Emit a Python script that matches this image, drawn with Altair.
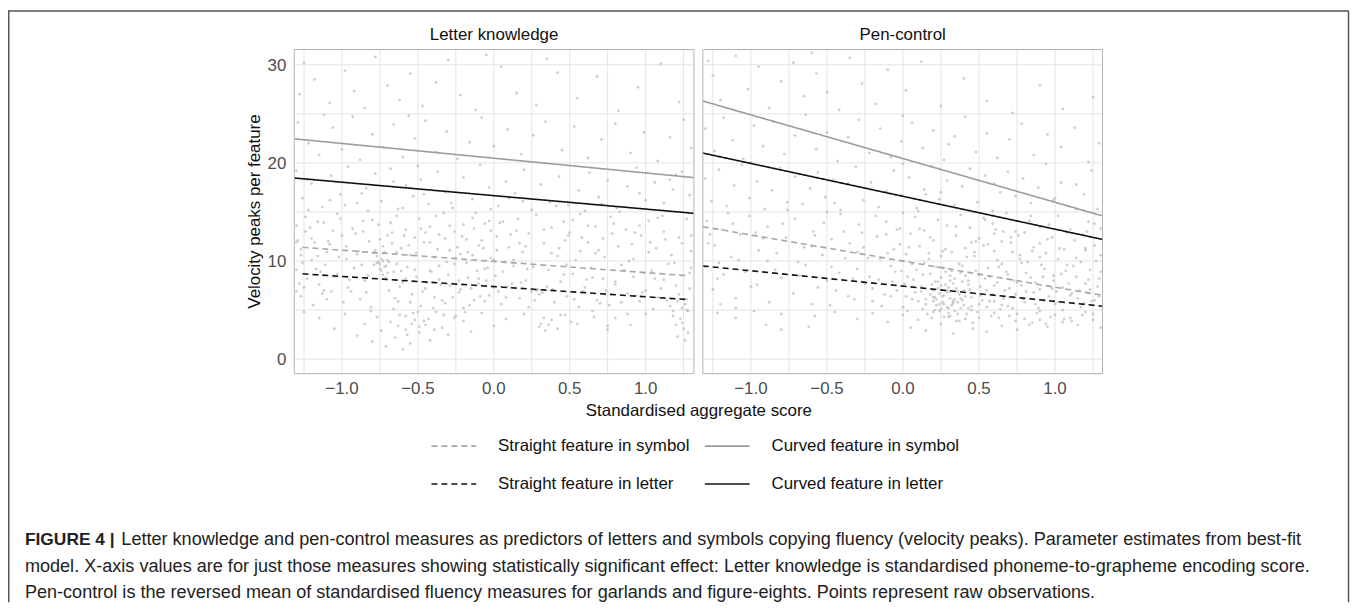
import altair as alt
import pandas as pd

FONT = "Liberation Sans"

# ---------------- data ----------------
SERIES = ["Straight feature in symbol", "Curved feature in symbol",
          "Straight feature in letter", "Curved feature in letter"]
PANEL_TITLES = ["Letter knowledge", "Pen-control"]
X_TITLE = "Standardised aggregate score"
Y_TITLE = "Velocity peaks per feature"
X_TICKS = [-1.0, -0.5, 0.0, 0.5, 1.0]
Y_TICKS = [0, 10, 20, 30]
X_GRID = [-1.25, -1.0, -0.75, -0.5, -0.25, 0.0, 0.25, 0.5, 0.75, 1.0, 1.25]
Y_GRID = [0, 5, 10, 15, 20, 25, 30]

# fitted lines (start / end of each series, in SERIES order)
LK_LINE_X0 = [-1.26, -1.314, -1.26, -1.314]
LK_LINE_X1 = [1.28, 1.318, 1.28, 1.318]
LK_LINE_Y0 = [11.4, 22.45, 8.7, 18.46]
LK_LINE_Y1 = [8.5, 18.5, 6.07, 14.86]
PC_LINE_X0 = [-1.316, -1.316, -1.316, -1.316]
PC_LINE_X1 = [1.312, 1.312, 1.312, 1.312]
PC_LINE_Y0 = [13.5, 26.3, 9.5, 21.0]
PC_LINE_Y1 = [6.5, 14.6, 5.4, 12.2]

# raw observations (a readable sample)
LK_POINTS = [
    (-1.25,30.2),(-1.18,28.5),(-1.08,26.1),(-0.98,29.4),(-0.92,27.3),(-0.85,25.6),(-0.78,30.8),(-0.7,27.9),
    (-0.62,26.4),(-0.55,29.1),(-0.47,25.8),(-0.38,28.2),(-0.3,30.5),(-0.22,26.9),(-0.12,25.4),(0.05,29.8),
    (0.15,27.1),(0.28,25.9),(0.42,29.2),(0.55,26.6),(0.68,28.8),(0.82,25.3),(0.95,27.7),(1.1,30.1),
    (1.22,26.2),(-1.28,27.0),(-0.05,31.0),(0.35,30.6),
    (-1.29,24.1),(-1.22,22.0),(-1.15,20.8),(-1.06,23.6),(-1.0,21.4),(-0.93,24.7),(-0.88,20.3),(-0.8,22.9),
    (-0.73,21.6),(-0.66,23.9),(-0.6,20.6),(-0.52,22.5),(-0.45,24.3),(-0.38,21.1),(-0.31,23.2),(-0.24,20.4),
    (-0.16,22.1),(-0.08,24.6),(0.0,21.7),(0.09,23.4),(0.18,20.9),(0.26,22.8),(0.34,24.2),(0.45,21.3),
    (0.53,23.7),(0.62,20.5),(0.71,22.4),(0.8,24.0),(0.9,21.0),(0.99,23.1),(1.08,20.2),(1.16,22.6),
    (1.25,24.4),(1.3,21.5),(-1.12,24.9),(-0.56,24.8),
    (-1.3,19.2),(-1.26,16.4),(-1.2,17.9),(-1.13,15.5),(-1.07,18.7),(-1.01,16.8),(-0.96,19.6),(-0.9,15.9),
    (-0.84,17.4),(-0.78,18.9),(-0.74,16.1),(-0.68,19.4),(-0.63,15.3),(-0.58,17.7),(-0.53,16.6),(-0.48,18.3),
    (-0.43,15.8),(-0.37,19.1),(-0.32,17.0),(-0.27,15.4),(-0.2,18.5),(-0.14,16.3),(-0.09,19.8),(-0.03,17.5),
    (0.03,15.6),(0.08,18.1),(0.14,16.9),(0.2,19.3),(0.25,15.2),(0.31,17.8),(0.37,16.0),(0.43,18.6),
    (0.49,15.7),(0.56,17.2),(0.63,19.0),(0.69,16.5),(0.75,18.2),(0.81,15.4),(0.88,17.6),(0.94,19.5),
    (1.0,16.2),(1.06,18.0),(1.12,15.9),(1.18,17.3),(1.24,19.1),(1.29,16.7),(-1.23,18.3),(-0.87,16.9),
    (-0.5,19.7),(0.1,16.4),(0.6,15.1),(1.2,18.8),
    (-1.3,13.6),(-1.27,11.2),(-1.24,14.5),(-1.2,12.3),(-1.16,10.5),(-1.12,13.9),(-1.08,11.7),(-1.03,14.8),
    (-1.0,12.6),(-0.97,10.2),(-0.93,13.3),(-0.89,11.0),(-0.86,14.1),(-0.82,12.0),(-0.79,10.8),(-0.76,13.7),
    (-0.73,11.5),(-0.7,10.1),(-0.67,12.9),(-0.64,14.6),(-0.61,11.3),(-0.58,13.2),(-0.55,10.6),(-0.52,12.4),
    (-0.49,14.3),(-0.46,11.9),(-0.42,13.5),(-0.39,10.4),(-0.36,12.7),(-0.33,14.9),(-0.29,11.1),(-0.26,13.0),
    (-0.22,10.7),(-0.18,12.2),(-0.14,14.4),(-0.1,11.6),(-0.06,13.8),(-0.02,10.3),(0.02,12.5),(0.06,14.0),
    (0.1,11.4),(0.15,13.1),(0.19,10.9),(0.23,12.8),(0.28,14.7),(0.33,11.8),(0.38,13.4),(0.42,10.5),
    (0.47,12.1),(0.52,14.2),(0.57,11.0),(0.62,13.6),(0.67,10.8),(0.72,12.3),(0.77,14.5),(0.82,11.5),
    (0.87,13.2),(0.92,10.2),(0.97,12.6),(1.02,14.1),(1.07,11.3),(1.12,13.0),(1.17,10.6),(1.22,12.4),
    (1.27,14.3),(1.3,11.0),(-0.75,12.2),(-0.72,10.9),(-0.7,12.6),(-0.02,13.1),(0.5,12.9),(-1.1,10.9),
    (-1.3,9.1),(-1.27,6.4),(-1.23,8.2),(-1.19,5.5),(-1.15,7.6),(-1.11,9.6),(-1.07,6.9),(-1.03,8.7),
    (-0.99,5.8),(-0.96,7.3),(-0.92,9.3),(-0.88,6.1),(-0.85,8.0),(-0.81,5.3),(-0.77,9.8),(-0.75,9.2),
    (-0.73,8.6),(-0.71,9.5),(-0.69,7.0),(-0.66,8.9),(-0.63,5.9),(-0.6,7.8),(-0.57,9.4),(-0.54,6.6),
    (-0.51,8.4),(-0.48,5.4),(-0.45,7.2),(-0.42,9.0),(-0.39,6.3),(-0.36,8.1),(-0.32,5.7),(-0.29,7.5),
    (-0.26,9.7),(-0.23,6.8),(-0.2,5.2),(-0.17,8.3),(-0.13,6.0),(-0.1,7.7),(-0.06,9.2),(-0.03,6.5),
    (0.01,8.5),(0.05,5.6),(0.09,7.4),(0.13,9.5),(0.17,6.2),(0.21,8.0),(0.25,6.9),(0.29,7.1),
    (0.32,6.8),(0.36,9.1),(0.4,5.8),(0.44,7.9),(0.48,6.4),(0.52,8.7),(0.56,5.3),(0.6,7.3),
    (0.64,9.3),(0.68,6.0),(0.72,8.2),(0.76,5.5),(0.8,7.6),(0.84,9.6),(0.88,6.7),(0.92,8.4),
    (0.96,5.9),(1.0,7.0),(1.04,9.0),(1.08,6.3),(1.12,8.1),(1.16,5.4),(1.2,7.5),(1.24,5.2),
    (1.27,6.1),(1.29,8.8),(-0.64,9.7),(-0.58,8.2),
    (-1.15,4.2),(-1.05,3.1),(-0.98,4.6),(-0.9,2.4),(-0.85,3.6),(-0.8,1.8),(-0.77,4.3),(-0.74,2.9),
    (-0.71,1.3),(-0.68,3.8),(-0.65,2.2),(-0.62,4.5),(-0.58,3.0),(-0.55,1.6),(-0.52,4.0),(-0.49,2.7),
    (-0.45,3.5),(-0.42,1.9),(-0.38,4.8),(-0.34,3.2),(-0.3,2.5),(-0.25,4.4),(-0.2,3.9),(-0.15,2.8),
    (-0.08,4.7),(0.0,3.4),(0.08,4.1),(0.2,4.6),(0.3,3.3),(0.34,2.9),(0.38,4.0),(0.42,3.1),
    (0.47,4.5),(0.55,3.6),(0.65,4.9),(0.75,3.0),(0.8,4.2),(0.9,3.5),(1.0,4.6),(1.18,4.4),
    (1.21,2.3),(1.24,3.7),(1.26,1.9),(1.28,4.9),(-1.25,4.8),(-0.6,1.0),
    (-1.29,12.1),(-1.26,9.8),(-1.22,15.2),(-1.18,11.9),(-1.14,8.9),(-1.1,6.1),(-1.06,13.1),(-1.02,10.4),
    (-0.98,15.7),(-0.95,8.1),(-0.91,12.8),(-0.87,9.6),(-0.84,6.8),(-0.8,14.2),(-0.78,11.1),(-0.76,9.9),
    (-0.74,10.2),(-0.72,9.4),(-0.7,8.8),(-0.68,13.9),(-0.66,5.1),(-0.64,10.9),(-0.62,7.4),(-0.6,15.4),
    (-0.58,4.4),(-0.56,11.6),(-0.54,3.6),(-0.52,9.1),(-0.5,4.8),(-0.48,13.3),(-0.46,3.9),(-0.44,7.8),
    (-0.42,11.9),(-0.4,5.2),(-0.38,14.6),(-0.36,9.5),(-0.34,6.0),(-0.32,12.3),(-0.3,8.6),(-0.28,15.9),
    (-0.26,4.2),(-0.24,11.4),(-0.22,7.1),(-0.2,13.7),(-0.18,9.8),(-0.16,5.5),(-0.14,10.6),(-0.12,14.9),
    (-0.1,8.2),(-0.08,12.1),(-0.06,5.9),(-0.04,9.3),(-0.02,15.3),(0.0,7.3),(0.02,11.1),(0.04,13.9),
    (0.06,8.9),(0.08,6.3),(0.11,12.7),(0.13,10.1),(0.16,14.3),(0.18,7.8),(0.21,11.5),(0.23,5.3),
    (0.26,9.4),(0.28,7.0),(0.3,6.6),(0.33,13.2),(0.35,7.4),(0.38,10.8),(0.41,15.6),(0.44,4.5),
    (0.46,8.6),(0.49,12.6),(0.51,3.8),(0.54,10.1),(0.57,14.8),(0.59,6.9),(0.62,11.9),(0.65,8.3),
    (0.67,13.5),(0.7,5.7),(0.73,10.4),(0.75,3.4),(0.78,12.8),(0.8,7.9),(0.83,15.0),(0.86,9.1),
    (0.88,4.6),(0.91,11.7),(0.94,6.5),(0.96,13.6),(0.99,8.8),(1.02,10.9),(1.05,5.1),(1.08,14.4),
    (1.1,7.2),(1.13,12.2),(1.15,9.7),(1.18,4.9),(1.2,3.5),(1.22,6.6),(1.24,11.8),(1.26,5.6),
    (1.28,2.7),(1.3,9.3),(-1.28,7.7),(-1.24,13.0),(-1.2,10.1),(-1.16,14.0),(-1.12,7.0),
    (-1.27,10.6),(-1.25,7.3),(-1.21,13.4),(-1.17,9.2),(-1.13,6.7),(-1.09,12.0),(-1.05,8.4),(-1.01,14.3),
    (-0.97,11.5),(-0.94,6.9),(-0.9,10.7),(-0.86,13.0),(-0.83,8.5),(-0.81,4.9),(-0.79,9.6),(-0.77,10.5),
    (-0.75,9.7),(-0.74,9.0),(-0.73,10.0),(-0.71,8.3),(-0.69,9.9),(-0.67,11.8),(-0.65,6.2),(-0.63,3.4),
    (-0.61,9.0),(-0.59,12.6),(-0.57,2.5),(-0.55,5.8),(-0.53,4.7),(-0.51,10.8),(-0.49,3.3),(-0.47,6.9),
    (-0.45,12.9),(-0.43,4.1),(-0.41,8.9),(-0.39,3.0),(-0.37,11.2),(-0.35,7.6),(-0.33,4.5),(-0.31,9.9),
    (-0.29,13.6),(-0.27,6.3),(-0.25,10.3),(-0.23,8.0),(-0.21,12.5),(-0.19,4.8),(-0.17,10.9),(-0.15,7.2),
    (-0.13,13.3),(-0.11,9.0),(-0.09,6.4),(-0.07,11.3),(-0.05,8.0),(-0.03,14.1),(0.0,10.1),(0.03,6.9),
    (0.07,9.9),(0.12,7.7),(0.17,11.8),(0.22,9.2),(0.27,6.0),(0.31,3.6),(0.33,4.2),(0.36,3.5),
    (0.39,7.1),(0.43,11.3),(0.48,9.6),(0.53,6.1),(0.58,12.4),(0.61,8.1),(0.66,4.3),(0.69,11.1),
    (0.74,7.0),(0.79,13.8),(0.84,5.8),(0.89,10.0),(0.93,12.9),(0.98,6.8),(1.03,11.9),(1.06,8.2),
    (1.11,14.6),(1.14,6.0),(1.19,9.8),(1.21,5.9),(1.23,4.1),(1.25,3.1),(1.27,5.0),(1.29,7.2),
    (1.3,12.6),(-1.3,11.9),(-1.3,6.9),(0.71,15.8),(0.46,14.0),(-0.83,15.1),(-0.46,16.8),(0.19,16.1),
    (-1.08,16.2),(0.96,16.9),(1.16,18.3),(-0.66,18.1),
]

PC_POINTS = [
    (-1.28,30.4),(-1.25,28.9),(-1.2,26.4),(-1.1,30.9),(-1.02,27.5),(-0.95,29.8),(-0.88,25.6),(-0.8,28.3),
    (-0.72,30.2),(-0.65,26.8),(-0.57,29.1),(-0.5,27.2),(-0.42,25.4),(-0.35,30.7),(-0.27,28.1),(-0.18,26.0),
    (-0.1,29.5),(0.02,27.4),(0.12,30.3),(0.25,25.8),(0.4,28.6),(0.55,26.3),(0.72,25.1),(0.9,27.9),
    (1.05,25.5),(1.25,26.7),(-0.6,31.2),
    (-1.3,23.5),(-1.24,21.2),(-1.18,24.6),(-1.12,22.3),(-1.05,20.4),(-0.98,23.8),(-0.92,21.7),(-0.85,24.2),
    (-0.78,20.9),(-0.71,22.8),(-0.64,24.9),(-0.57,21.4),(-0.5,23.1),(-0.43,20.2),(-0.36,22.6),(-0.29,24.4),
    (-0.22,21.0),(-0.15,23.5),(-0.08,20.6),(-0.01,22.2),(0.06,24.1),(0.13,21.5),(0.2,23.3),(0.27,20.3),
    (0.34,22.7),(0.41,24.7),(0.48,21.1),(0.55,23.0),(0.62,20.5),(0.7,22.4),(0.78,24.0),(0.86,20.8),
    (0.95,22.9),(1.04,21.6),(1.13,23.6),(1.22,20.1),(1.29,22.0),(-1.0,20.0),(0.3,21.9),(0.0,24.8),
    (-1.3,18.4),(-1.26,16.1),(-1.21,19.3),(-1.16,15.6),(-1.11,17.7),(-1.06,19.8),(-1.01,16.4),(-0.96,18.1),
    (-0.91,15.3),(-0.86,17.2),(-0.81,19.5),(-0.76,16.0),(-0.71,18.6),(-0.66,15.8),(-0.61,17.4),(-0.56,19.0),
    (-0.51,16.5),(-0.46,18.3),(-0.41,15.2),(-0.36,17.9),(-0.31,19.6),(-0.26,16.2),(-0.21,18.0),(-0.16,15.5),
    (-0.11,17.1),(-0.06,19.2),(-0.01,16.7),(0.04,18.5),(0.09,15.4),(0.14,17.3),(0.19,19.7),(0.24,16.3),
    (0.29,18.2),(0.34,15.7),(0.39,17.6),(0.44,19.4),(0.49,16.0),(0.54,18.7),(0.59,15.1),(0.64,17.0),
    (0.69,19.1),(0.74,16.6),(0.79,18.4),(0.84,15.9),(0.89,17.5),(0.94,19.9),(0.99,16.2),(1.04,18.0),
    (1.09,15.6),(1.14,17.8),(1.19,16.8),(1.24,19.2),(1.28,15.3),(0.0,19.9),(0.25,17.0),(-0.5,15.0),
    (-1.29,14.1),(-1.24,11.6),(-1.19,13.2),(-1.13,10.4),(-1.07,12.7),(-1.01,14.6),(-0.95,11.1),(-0.89,13.5),
    (-0.83,10.8),(-0.77,12.4),(-0.71,14.3),(-0.65,11.4),(-0.59,13.0),(-0.53,10.6),(-0.47,12.2),(-0.41,14.8),
    (-0.35,11.8),(-0.29,13.7),(-0.23,10.3),(-0.17,12.5),(-0.11,14.0),(-0.06,11.2),(-0.02,13.3),(0.02,10.7),
    (0.05,12.8),(0.08,14.5),(0.11,11.5),(0.14,13.1),(0.17,10.2),(0.2,12.1),(0.23,14.2),(0.26,11.0),
    (0.29,13.6),(0.32,10.9),(0.35,12.6),(0.38,14.7),(0.41,11.3),(0.44,13.4),(0.47,10.5),(0.5,12.3),
    (0.53,14.4),(0.56,11.7),(0.59,13.8),(0.62,10.1),(0.65,12.0),(0.68,14.9),(0.71,11.9),(0.74,13.0),
    (0.77,10.6),(0.8,12.9),(0.83,14.1),(0.86,11.4),(0.9,13.5),(0.94,10.8),(0.98,12.4),(1.02,14.6),
    (1.06,11.2),(1.1,13.2),(1.14,10.3),(1.18,12.7),(1.22,14.0),(1.26,11.6),(1.3,13.3),(0.0,14.9),
    (0.25,10.5),(0.45,11.9),(0.6,12.8),(0.9,10.4),(1.2,11.1),(-0.3,10.9),
    (-1.3,9.4),(-1.25,7.1),(-1.18,8.6),(-1.1,6.2),(-1.03,9.0),(-0.96,7.6),(-0.88,5.8),(-0.8,8.3),
    (-0.72,6.7),(-0.64,9.6),(-0.56,7.3),(-0.48,5.5),(-0.42,8.8),(-0.36,6.4),(-0.3,9.2),(-0.25,7.7),
    (-0.2,5.9),(-0.16,8.1),(-0.12,6.6),(-0.08,9.5),(-0.04,7.0),(0.0,5.3),(0.03,8.4),(0.06,6.1),
    (0.09,9.1),(0.12,7.4),(0.15,5.6),(0.18,8.7),(0.21,6.3),(0.23,7.9),(0.25,5.1),(0.27,9.3),
    (0.29,6.8),(0.31,8.0),(0.33,5.7),(0.35,7.2),(0.37,9.7),(0.39,6.0),(0.41,8.5),(0.43,7.6),
    (0.45,5.4),(0.48,9.0),(0.51,6.5),(0.54,8.2),(0.57,5.9),(0.6,7.5),(0.63,9.4),(0.66,6.2),
    (0.69,8.6),(0.72,5.2),(0.75,7.8),(0.78,9.8),(0.81,6.9),(0.84,8.3),(0.87,5.6),(0.9,7.1),
    (0.93,9.2),(0.96,6.4),(0.99,8.0),(1.02,5.8),(1.05,7.3),(1.08,9.6),(1.11,6.7),(1.14,8.4),
    (1.17,5.3),(1.2,7.7),(1.23,9.1),(1.26,6.0),(1.29,8.2),(0.2,7.0),(0.26,6.4),(0.3,5.2),
    (0.34,6.1),(0.22,5.5),(0.28,7.6),(0.36,5.8),(0.18,6.6),(0.4,7.0),(0.1,5.9),(0.5,5.6),
    (0.55,7.0),(0.65,5.5),(0.7,7.2),(-0.5,8.0),(-1.2,5.6),
    (-1.22,4.7),(-1.1,4.2),(-0.98,4.9),(-0.9,3.5),(-0.8,4.6),(-0.62,3.3),(-0.58,4.4),(-0.45,4.8),
    (-0.3,4.1),(-0.2,4.7),(-0.1,3.8),(0.0,4.5),(0.05,3.2),(0.1,4.0),(0.15,2.9),(0.2,4.8),
    (0.25,3.6),(0.3,4.3),(0.33,2.6),(0.37,3.9),(0.42,4.6),(0.46,3.1),(0.5,4.2),(0.55,2.8),
    (0.6,4.7),(0.65,3.4),(0.7,4.4),(0.75,3.0),(0.8,4.1),(0.85,3.7),(0.9,4.9),(0.95,3.3),
    (1.0,4.5),(1.05,3.8),(1.1,4.2),(1.15,3.5),(1.2,4.8),(1.25,4.0),(1.3,3.2),(-0.8,3.0),
    (-1.28,11.8),(-1.22,8.2),(-1.15,14.9),(-1.08,10.1),(-1.0,7.4),(-0.92,12.3),(-0.84,9.1),(-0.76,15.2),
    (-0.68,8.5),(-0.6,11.5),(-0.52,13.9),(-0.44,7.0),(-0.38,10.3),(-0.32,6.1),(-0.27,12.9),(-0.22,8.4),
    (-0.18,14.6),(-0.14,5.4),(-0.1,10.8),(-0.07,7.9),(-0.04,13.2),(-0.01,9.0),(0.02,6.4),(0.04,11.4),
    (0.07,8.1),(0.1,15.1),(0.12,6.9),(0.14,9.8),(0.16,4.6),(0.18,12.4),(0.19,7.6),(0.21,5.0),
    (0.22,9.4),(0.24,6.7),(0.25,8.3),(0.27,4.3),(0.28,11.2),(0.3,7.3),(0.31,6.2),(0.32,9.0),
    (0.34,4.9),(0.35,13.5),(0.37,6.6),(0.38,8.8),(0.4,5.5),(0.42,10.4),(0.44,7.1),(0.46,3.7),
    (0.48,12.0),(0.5,8.6),(0.52,6.0),(0.54,14.2),(0.56,9.3),(0.58,4.4),(0.6,11.0),(0.62,7.8),
    (0.64,5.1),(0.66,13.0),(0.68,8.9),(0.7,6.3),(0.72,10.9),(0.74,3.9),(0.76,12.6),(0.78,7.5),
    (0.8,5.8),(0.82,9.9),(0.84,14.6),(0.86,6.8),(0.88,4.7),(0.9,11.8),(0.92,8.4),(0.94,3.6),
    (0.96,13.7),(0.98,7.2),(1.0,5.6),(1.02,10.2),(1.04,8.7),(1.06,4.1),(1.08,12.9),(1.1,6.5),
    (1.12,9.5),(1.14,15.3),(1.16,7.0),(1.18,4.5),(1.2,11.3),(1.22,8.1),(1.24,5.9),(1.26,13.8),
    (1.28,7.4),(1.3,10.6),(0.26,5.8),(0.33,7.7),(0.29,5.3),(0.36,4.6),(0.23,7.2),(0.41,6.4),
    (0.31,8.5),(0.2,5.9),(0.45,5.0),(0.39,7.9),(-0.6,5.6),(-1.1,5.2),(-0.45,15.9),(0.15,16.8),
    (0.6,17.9),(1.0,16.4),
    (-1.27,12.7),(-1.21,9.8),(-1.12,13.8),(-1.04,8.9),(-0.97,12.9),(-0.89,10.0),(-0.79,13.8),(-0.69,9.9),
    (-0.58,12.6),(-0.47,9.4),(-0.39,13.0),(-0.33,8.2),(-0.26,11.4),(-0.2,7.2),(-0.15,10.2),(-0.11,12.7),
    (-0.08,6.4),(-0.05,8.9),(-0.02,11.7),(0.01,7.7),(0.03,4.9),(0.06,9.7),(0.08,6.8),(0.11,13.3),
    (0.13,8.6),(0.15,6.1),(0.17,10.8),(0.19,4.2),(0.21,7.9),(0.22,6.1),(0.24,4.9),(0.25,7.5),
    (0.27,5.6),(0.28,8.9),(0.3,4.7),(0.31,6.9),(0.32,5.5),(0.34,8.2),(0.35,3.9),(0.36,6.9),
    (0.38,5.2),(0.39,9.5),(0.41,4.1),(0.43,8.0),(0.45,6.3),(0.47,10.9),(0.49,4.8),(0.51,7.4),
    (0.53,11.6),(0.55,5.3),(0.57,8.4),(0.59,6.6),(0.61,13.2),(0.63,4.2),(0.65,9.7),(0.67,7.0),
    (0.69,5.4),(0.71,12.4),(0.73,8.0),(0.75,4.6),(0.77,10.2),(0.79,6.1),(0.81,8.8),(0.83,3.5),
    (0.85,11.0),(0.87,7.8),(0.89,5.2),(0.91,9.6),(0.93,6.0),(0.95,12.2),(0.97,4.3),(0.99,8.5),
    (1.01,6.9),(1.03,11.3),(1.05,5.0),(1.07,9.0),(1.09,7.7),(1.11,3.9),(1.13,12.1),(1.15,6.2),
    (1.17,9.9),(1.19,5.7),(1.21,13.0),(1.23,7.1),(1.25,4.6),(1.27,10.0),(1.29,6.4),(1.3,8.9),
    (0.27,6.5),(0.33,5.9),(0.24,5.6),(0.38,6.2),(0.29,7.0),(0.31,4.4),(0.2,6.3),(0.43,5.2),
    (0.13,5.1),(0.6,5.9),(0.74,6.6),(0.9,4.0),
]

CAPTION_BOLD = "FIGURE 4 |"
CAPTION_LINES = [
    "Letter knowledge and pen-control measures as predictors of letters and symbols copying fluency (velocity peaks). Parameter estimates from best-fit",
    "model. X-axis values are for just those measures showing statistically significant effect: Letter knowledge is standardised phoneme-to-grapheme encoding score.",
    "Pen-control is the reversed mean of standardised fluency measures for garlands and figure-eights. Points represent raw observations.",
]

# ---------------- layout / style ----------------
W, H = 1350, 596
PY0, PY1 = 40, 366                 # panel top / bottom (px)
LEFT_R, RIGHT_R = (288, 690), (699, 1101)
LK_XDOM, PC_XDOM = [-1.314, 1.318], [-1.316, 1.312]
YDOM = [-1.47, 31.55]
GRID_C, BORDER_C, LABEL_C, TEXT_C = "#e4e4e4", "#b3b3b3", "#4d4d4d", "#111111"
STYLE = {  # colour, dash
    "Straight feature in symbol": ("#a6a6a6", [6, 4]),
    "Curved feature in symbol": ("#9c9c9c", [1, 0]),
    "Straight feature in letter": ("#111111", [6, 4]),
    "Curved feature in letter": ("#111111", [1, 0]),
}
# legend fills column by column: column 1 = straight, column 2 = curved
LEG_ORDER = [SERIES[0], SERIES[2], SERIES[1], SERIES[3]]
COLOR_SCALE = alt.Scale(domain=LEG_ORDER, range=[STYLE[s][0] for s in LEG_ORDER])
DASH_SCALE = alt.Scale(domain=LEG_ORDER, range=[STYLE[s][1] for s in LEG_ORDER])
ONE = pd.DataFrame({"k": [0]})

LEGEND = alt.Legend(
    orient="none", legendX=425, legendY=430.5, columns=2, title=None,
    symbolType="stroke", symbolSize=2025, symbolStrokeWidth=1.6,
    labelFont=FONT, labelFontSize=17, labelColor=TEXT_C, labelLimit=500,
    labelOffset=21, columnPadding=14, rowPadding=20, clipHeight=17, padding=0,
)


def line_frame(x0, y0, x1, y1):
    rows = []
    for s, a, b, c, d in zip(SERIES, x0, y0, x1, y1):
        rows.append({"series": s, "x": a, "y": b})
        rows.append({"series": s, "x": c, "y": d})
    return pd.DataFrame(rows)


def panel(idx, points, x0, y0, x1, y1, xdom, xr):
    xs = alt.Scale(domain=xdom, range=list(xr), nice=False, zero=False)
    ys = alt.Scale(domain=YDOM, range=[PY1, PY0], nice=False, zero=False)
    gx = alt.Chart(pd.DataFrame({"v": X_GRID})).mark_rule(color=GRID_C, strokeWidth=1).encode(
        x=alt.X("v:Q", scale=xs, axis=None), y=alt.value(PY0), y2=alt.value(PY1))
    gy = alt.Chart(pd.DataFrame({"v": Y_GRID})).mark_rule(color=GRID_C, strokeWidth=1).encode(
        y=alt.Y("v:Q", scale=ys, axis=None), x=alt.value(xr[0]), x2=alt.value(xr[1]))
    pts = alt.Chart(pd.DataFrame(points, columns=["x", "y"])).mark_circle(
        size=8, color="#a8a8a8", opacity=0.55).encode(
        x=alt.X("x:Q", scale=xs, axis=None),
        y=alt.Y("y:Q", scale=ys, axis=None))
    lines = alt.Chart(line_frame(x0, y0, x1, y1)).mark_line(strokeWidth=1.6).encode(
        x=alt.X("x:Q", scale=xs, axis=None),
        y=alt.Y("y:Q", scale=ys, axis=None),
        color=alt.Color("series:N", scale=COLOR_SCALE, legend=LEGEND),
        strokeDash=alt.StrokeDash("series:N", scale=DASH_SCALE, legend=LEGEND),
    )
    border = alt.Chart(ONE).mark_rect(fillOpacity=0, stroke=BORDER_C, strokeWidth=1).encode(
        x=alt.value(xr[0]), x2=alt.value(xr[1]), y=alt.value(PY0), y2=alt.value(PY1))
    title = alt.Chart(ONE).mark_text(
        text=PANEL_TITLES[idx], font=FONT, fontSize=17, color=TEXT_C,
        align="center", baseline="alphabetic").encode(
        x=alt.value((xr[0] + xr[1]) / 2), y=alt.value(30.7))
    xlab = alt.Chart(pd.DataFrame({"v": X_TICKS})).mark_text(
        font=FONT, fontSize=17, color=LABEL_C, align="center", baseline="alphabetic").encode(
        x=alt.X("v:Q", scale=xs, axis=None), y=alt.value(387),
        text=alt.Text("v:Q", format=".1f"))
    layers = [gx, gy, pts, lines, border, title, xlab]
    if idx == 0:
        ylab = alt.Chart(pd.DataFrame({"v": Y_TICKS})).mark_text(
            font=FONT, fontSize=17, color=LABEL_C, align="right", baseline="alphabetic", dy=6).encode(
            y=alt.Y("v:Q", scale=ys, axis=None), x=alt.value(xr[0] - 8),
            text=alt.Text("v:Q", format="d"))
        layers.append(ylab)
    return alt.layer(*layers)


left = panel(0, LK_POINTS, LK_LINE_X0, LK_LINE_Y0, LK_LINE_X1, LK_LINE_Y1, LK_XDOM, LEFT_R)
right = panel(1, PC_POINTS, PC_LINE_X0, PC_LINE_Y0, PC_LINE_X1, PC_LINE_Y1, PC_XDOM, RIGHT_R)

# axis titles
x_title = alt.Chart(ONE).mark_text(
    text=X_TITLE, font=FONT, fontSize=17, color=TEXT_C, align="center", baseline="alphabetic"
).encode(x=alt.value(695), y=alt.value(409))
y_title = alt.Chart(ONE).mark_text(
    text=Y_TITLE, font=FONT, fontSize=17, color=TEXT_C, align="center", baseline="alphabetic",
    angle=270).encode(x=alt.value(254), y=alt.value((PY0 + PY1) / 2))

# figure frame (left, top, right edges)
FRAME_C = "#555555"
frame_l = alt.Chart(ONE).mark_rule(color=FRAME_C, strokeWidth=1.5).encode(
    x=alt.value(0.75), y=alt.value(1), y2=alt.value(H))
frame_t = alt.Chart(ONE).mark_rule(color=FRAME_C, strokeWidth=1.5).encode(
    x=alt.value(0), x2=alt.value(1348.5), y=alt.value(1.2))
frame_r = alt.Chart(ONE).mark_rule(color=FRAME_C, strokeWidth=1.5).encode(
    x=alt.value(1348.5), y=alt.value(1), y2=alt.value(H))

CAP_X, CAP_Y = 17, [538.5, 565.5, 591.5]
cap_bold = alt.Chart(ONE).mark_text(
    text=CAPTION_BOLD, font=FONT, fontSize=17.5, fontWeight="bold", color="#222222",
    align="left", baseline="alphabetic").encode(x=alt.value(CAP_X), y=alt.value(CAP_Y[0]))
cap_lines = [
    alt.Chart(ONE).mark_text(
        text=t, font=FONT, fontSize=18.2, color="#222222", align="left", baseline="alphabetic"
    ).encode(x=alt.value(CAP_X + (97 if i == 0 else 0)), y=alt.value(CAP_Y[i]))
    for i, t in enumerate(CAPTION_LINES)
]

chart = alt.layer(
    frame_l, frame_t, frame_r, left, right, x_title, y_title, cap_bold, *cap_lines
).resolve_scale(x="independent").properties(
    width=W, height=H, padding=0, autosize=alt.AutoSizeParams(type="none")
).configure(font=FONT).configure_view(stroke=None)

chart.save("out.html", embed_options={"renderer": "svg", "actions": False})
